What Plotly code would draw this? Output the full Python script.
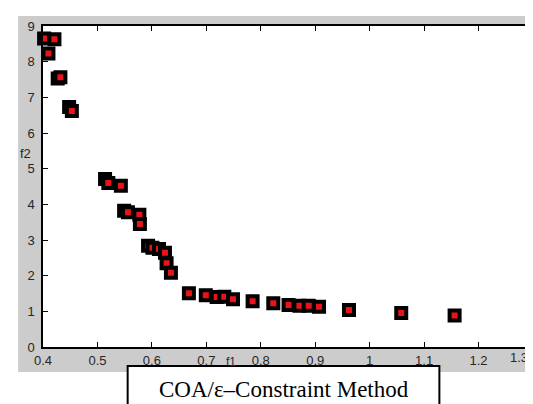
import plotly.graph_objects as go

# Pareto front points
f1 = [0.402, 0.421, 0.410, 0.427, 0.432, 0.448, 0.453,
      0.514, 0.520, 0.543, 0.549, 0.556, 0.577, 0.578,
      0.593, 0.601, 0.613, 0.624, 0.627, 0.635,
      0.668, 0.699, 0.719, 0.733, 0.749, 0.785, 0.823,
      0.851, 0.871, 0.888, 0.907, 0.962, 1.058, 1.156]
f2 = [8.65, 8.63, 8.23, 7.53, 7.56, 6.73, 6.62,
      4.71, 4.60, 4.52, 3.82, 3.78, 3.71, 3.45,
      2.84, 2.78, 2.75, 2.64, 2.35, 2.08,
      1.51, 1.45, 1.40, 1.41, 1.34, 1.28, 1.23,
      1.18, 1.16, 1.16, 1.13, 1.04, 0.95, 0.88]

x_ticks = [0.4, 0.5, 0.6, 0.7, 0.8, 0.9, 1.0, 1.1, 1.2, 1.3]
x_labels = ["0.4", "0.5", "0.6", "0.7", "0.8", "0.9", "1", "1.1", "1.2", ""]
last_x_label = "1.3"
y_ticks = [0, 1, 2, 3, 4, 5, 6, 7, 8, 9]
caption = "COA/ε–Constraint Method"

W, H = 533, 404
L, R, T, B = 35, 6, 18, 65
pw, ph = W - L - R, H - T - B

def px(x):
    return (x - L) / pw

def py(y):
    return (H - B - y) / ph

fig = go.Figure()
fig.add_trace(go.Scatter(
    x=f1, y=f2, mode="markers",
    marker=dict(symbol="square", size=10, color="#e8141a",
                line=dict(color="black", width=4)),
    showlegend=False, hoverinfo="x+y", cliponaxis=False))

axis_font = dict(family="Liberation Sans, Arial, sans-serif", size=13, color="#262626")

fig.update_layout(
    width=W, height=H,
    margin=dict(l=L, r=R, t=T, b=B),
    paper_bgcolor="#cccccc",
    plot_bgcolor="white",
    xaxis=dict(range=[0.4, 1.3], tickvals=x_ticks, ticktext=x_labels,
               ticks="inside", ticklen=5, tickcolor="black", showgrid=False,
               zeroline=False, showline=True, linecolor="black", linewidth=1.5,
               mirror="ticks", tickfont=axis_font, ticklabelstandoff=1),
    yaxis=dict(range=[0, 9], tickvals=y_ticks,
               ticks="inside", ticklen=5, tickcolor="black", showgrid=False,
               zeroline=False, showline=True, linecolor="black", linewidth=1.5,
               mirror="ticks", tickfont=axis_font, ticklabelstandoff=4),
    shapes=[
        # white margins outside the grey figure area
        dict(type="rect", xref="paper", yref="paper", x0=px(-5), x1=px(W + 5),
             y0=py(-5), y1=py(8), fillcolor="white", line_width=0, layer="below"),
        dict(type="rect", xref="paper", yref="paper", x0=px(-5), x1=px(10),
             y0=py(H + 5), y1=py(-5), fillcolor="white", line_width=0, layer="below"),
        dict(type="rect", xref="paper", yref="paper", x0=px(-5), x1=px(W + 5),
             y0=py(H + 5), y1=py(364), fillcolor="white", line_width=0, layer="below"),
        # caption box
        dict(type="rect", xref="paper", yref="paper", x0=px(120), x1=px(433),
             y0=py(H + 5), y1=py(358), fillcolor="white",
             line=dict(color="black", width=2), layer="above"),
    ],
    annotations=[
        dict(text=last_x_label, xref="paper", yref="paper", x=px(524), y=py(350),
             showarrow=False, xanchor="right", yanchor="middle", font=axis_font),
        dict(text="f1", xref="paper", yref="paper", x=px(224), y=py(354),
             showarrow=False, xanchor="center", yanchor="middle",
             font=dict(family="Liberation Sans, Arial, sans-serif", size=12, color="#1c2640")),
        dict(text="f2", xref="paper", yref="paper", x=px(17), y=py(145),
             showarrow=False, xanchor="center", yanchor="middle",
             font=dict(family="Liberation Sans, Arial, sans-serif", size=13, color="#262626")),
        dict(text=caption, xref="paper", yref="paper", x=px(277), y=py(382),
             showarrow=False, xanchor="center", yanchor="middle",
             font=dict(family="Liberation Serif, Times New Roman, serif", size=23, color="black")),
    ],
)

fig.write_html("out.html")
